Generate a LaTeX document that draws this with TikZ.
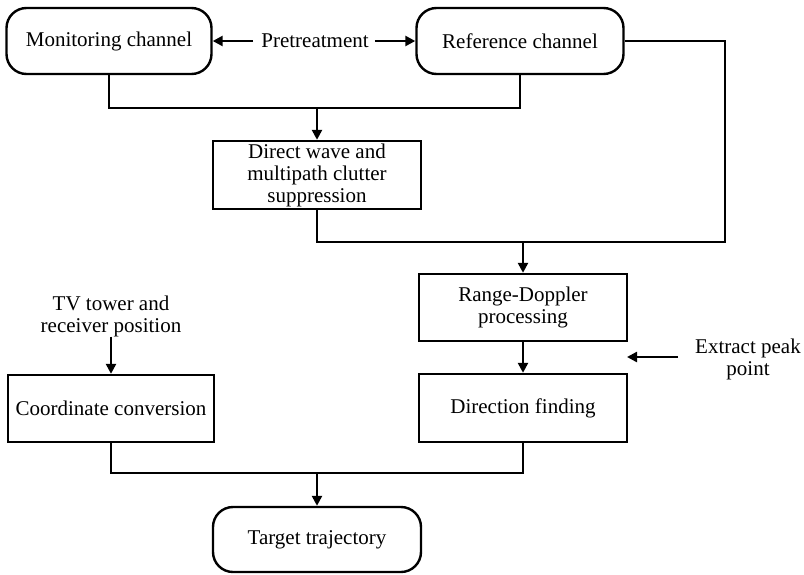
\documentclass[tikz,border=0pt]{standalone}
\usepackage{fontspec}
\setmainfont{Liberation Serif}
\usetikzlibrary{arrows.meta}
\begin{document}
\begin{tikzpicture}[x=1pt,y=-1pt,
  every node/.style={font=\fontsize{21}{22}\selectfont, align=center, inner sep=0pt},
  rbox/.style={draw, line width=2.4pt, rounded corners=20pt, minimum width=#1, minimum height=66pt},
  sbox/.style={draw, line width=2.4pt, minimum width=207pt, minimum height=67pt},
  conn/.style={line width=2.4pt},
  arr/.style={line width=2.4pt, -{Triangle[length=10pt,width=10pt]}}
]
\useasboundingbox (0,0) rectangle (804,574);
\node[rbox=205pt] (mon) at (109,41) {Monitoring channel};
\node[rbox=207pt] (ref) at (520,41) {Reference channel};
\node (pre) at (315,41) {Pretreatment};
\node[sbox, minimum width=208pt, minimum height=68pt] (direct) at (317,175) {Direct wave and\\multipath clutter\\suppression};
\node[sbox, minimum width=208pt] (rd) at (523,307.5) {Range-Doppler\\processing};
\node[sbox, minimum width=208pt, minimum height=68pt] (df) at (523,408) {Direction finding};
\node[sbox, minimum width=206pt] (cc) at (111,408.5) {Coordinate conversion};
\node (tv) at (111,316) {TV tower and\\receiver position};
\node (ext) at (748,359) {Extract peak\\point};
\node[rbox=208pt, minimum height=65pt] (tt) at (317,539.5) {Target trajectory};

\coordinate (j1) at (317,108);
\coordinate (j2) at (523,242);
\coordinate (rt) at (725,41);
\coordinate (j3) at (317,473);
\coordinate (exttail) at (678,357);
\coordinate (exttip) at (627,357);

\draw[arr] (pre.west) ++(-8,0) -- (mon.east);
\draw[arr] (pre.east) ++(6,0) -- (ref.west);
\draw[conn] (mon.south) |- (j1) -| (ref.south);
\draw[arr] (j1) -- (direct.north);
\draw[conn] (ref.east) -- (rt) |- (j2);
\draw[conn] (direct.south) |- (j2);
\draw[arr] (j2) -- (rd.north);
\draw[arr] (rd.south) -- (df.north);
\draw[arr] (exttail) -- (exttip);
\draw[arr] (tv.south) -- (cc.north);
\draw[conn] (cc.south) |- (j3) -| (df.south);
\draw[arr] (j3) -- (tt.north);
\end{tikzpicture}
\end{document}
